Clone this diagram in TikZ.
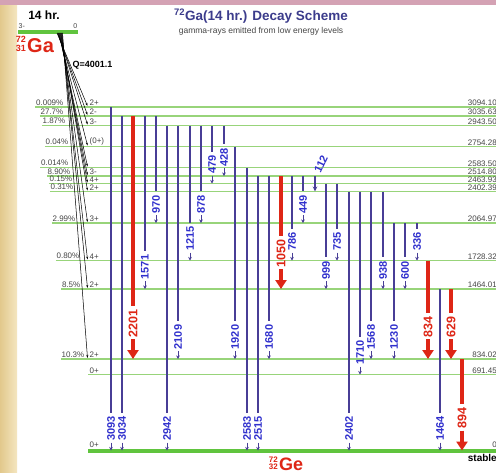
\documentclass[tikz,border=0pt]{standalone}
\usepackage{fontspec}
\setmainfont{Liberation Sans}
\usetikzlibrary{arrows.meta}
\definecolor{gaRed}{RGB}{222,38,22}
\definecolor{gamBlue}{RGB}{72,62,150}
\definecolor{labBlue}{RGB}{48,48,205}
\definecolor{levGreen}{RGB}{152,212,122}
\definecolor{gsGreen}{RGB}{96,196,62}
\definecolor{titleBlue}{RGB}{60,60,140}
\definecolor{txtGray}{RGB}{70,70,70}
\definecolor{sandA}{RGB}{226,200,140}
\definecolor{sandB}{RGB}{244,230,192}
\definecolor{pinkBg}{RGB}{212,162,180}

\begin{document}
\begin{tikzpicture}[x=1pt, y=-1pt, every node/.style={inner sep=0.5pt},
    lev/.style={levGreen, line width=1.2pt},
    gsl/.style={gsGreen, line width=4pt},
    feed/.style={black, line width=0.5pt, -{Stealth[length=3pt,width=2pt]}},
    gline/.style={gamBlue, line width=2pt},
    gtip/.style={gamBlue, line width=0.8pt, -{Stealth[length=3.5pt,width=3.5pt]}},
    rline/.style={gaRed, line width=4pt},
    rtip/.style={gaRed, line width=4pt, -{Triangle[length=9pt,width=11pt]}},
    glab/.style={labBlue, font=\bfseries\fontsize{11}{12}\selectfont, rotate=90, anchor=west},
    rlab/.style={gaRed, font=\bfseries\fontsize{12.5}{13}\selectfont, rotate=90, anchor=west},
    small/.style={txtGray, font=\fontsize{8}{9}\selectfont},
    pct/.style={small, anchor=south east},
    spin/.style={small, anchor=south west},
    elab/.style={small, anchor=south east}]
  \useasboundingbox (0,0) rectangle (496,472);
  % frame of the slide
  \fill[white] (0,0) rectangle (496,472);
  \shade[left color=sandA, right color=sandB] (0,0) rectangle (17,472);
  \fill[pinkBg] (0,0) rectangle (496,5);

  % header
  \node[titleBlue, font=\bfseries\fontsize{13.5}{15}\selectfont] (title) at (261,16) {\textsuperscript{72}Ga(14 hr.) Decay Scheme};
  \node[txtGray, font=\fontsize{8.5}{10}\selectfont] (subt) at (261,31) {gamma-rays emitted from low energy levels};

  % parent level
  \node[font=\bfseries\fontsize{12}{13}\selectfont] (half) at (44,15) {14 hr.};
  \draw[gsl] (18,31.5) -- (78,31.5);
  \node[small, font=\fontsize{7}{8}\selectfont, anchor=south west] (pspin) at (18,29) {3-};
  \node[small, font=\fontsize{7}{8}\selectfont, anchor=south east] (pzero) at (78,29) {0};
  \node[gaRed, font=\bfseries\fontsize{9}{10}\selectfont, anchor=base east] (gaA) at (26.5,42) {72};
  \node[gaRed, font=\bfseries\fontsize{9}{10}\selectfont, anchor=base east] (gaZ) at (26.5,51) {31};
  \node[gaRed, font=\bfseries\fontsize{20}{22}\selectfont, anchor=base west] (ga) at (26.5,52) {Ga};
  \node[font=\bfseries\fontsize{9}{10}\selectfont, anchor=west] (qval) at (72,65) {Q=4001.1};

  % levels fed by beta decay
  \foreach \n/\y/\e/\s/\p/\px/\bx in {
      1/107/3094.10/2+/0.009\%/64/57, 2/116/3035.63/2-/27.7\%/64/57.5,
      3/125.5/2943.50/3-/1.87\%/66/58, 4/146.5/2754.28/(0+)/0.04\%/69/58.5,
      5/167.5/2583.50/{}/0.014\%/69/59, 6/176/2514.80/3-/8.90\%/71/59.5,
      7/183.5/2463.93/4+/0.15\%/73/60, 8/191.5/2402.39/2+/0.31\%/74/60.5,
      9/223/2064.97/3+/2.99\%/76/61, 10/260.5/1728.32/4+/0.80\%/80/61.5,
      11/289/1464.01/2+/8.5\%/81/62, 12/359/834.02/2+/10.3\%/85/62.5} {
    \node[pct] (p\n) at (\px,\y-0.8) {\p};
    \draw[lev] (p\n.south west |- 0,\y) -- (496,\y);
    \node[spin] (s\n) at (89,\y-0.5) {\s};
    \node[elab] (e\n) at (497.5,\y-0.5) {\e};
    \draw[feed] (\bx,33) -- (87.5,\y-1);
  }
  \draw[lev] (88,374.5) -- (496,374.5);
  \node[spin] (s13) at (89,374) {0+};
  \node[elab] (e13) at (497.5,374) {691.45};

  % ground state
  \draw[gsl] (88,450.5) -- (496,450.5);
  \node[spin] (s0) at (89,448.5) {0+};
  \node[elab] (e0) at (497.5,448) {0};
  \node[font=\bfseries\fontsize{10}{11}\selectfont, anchor=north east] (stab) at (497.5,454) {stable};
  \node[gaRed, font=\bfseries\fontsize{8}{9}\selectfont, anchor=base east] (geA) at (278.5,462) {72};
  \node[gaRed, font=\bfseries\fontsize{8}{9}\selectfont, anchor=base east] (geZ) at (278.5,469.5) {32};
  \node[gaRed, font=\bfseries\fontsize{18}{20}\selectfont, anchor=base west] (ge) at (278.5,470.3) {Ge};

  % gamma transitions
  \foreach \x/\a/\b/\t in {
      111/107/450.5/3093, 122/116/450.5/3034, 145/116/289/1571, 156/116/223/970,
      167/125.5/450.5/2942, 178/125.5/359/2109, 190/125.5/260.5/1215, 201/125.5/223/878,
      212/125.5/183.5/479, 224/125.5/176/428, 235/146.5/359/1920, 247/167.5/450.5/2583,
      258/176/450.5/2515, 269/176/359/1680, 292/176/260.5/786, 303/176/223/449,
      326/183.5/289/999, 337/183.5/260.5/735, 349/191.5/450.5/2402, 360/191.5/374.5/1710,
      371/191.5/359/1568, 383/191.5/289/938, 394/223/359/1230, 405/223/289/600,
      417/223/260.5/336, 440/289/450.5/1464} {
    \node[glab] (g\t) at (\x,\b-9) {\t};
    \draw[gline] (\x,\a) -- ([yshift=3pt]g\t.east);
    \draw[gtip] ([yshift=-1pt]g\t.west) -- (\x,\b);
  }
  \draw[gline, -{Stealth[length=5pt,width=4.5pt]}] (315,176) -- (315,191.5);
  \node[labBlue, font=\bfseries\fontsize{11}{12}\selectfont, rotate=65] (g112) at (321,164) {112};

  % strong lines
  \foreach \x/\a/\b/\t in {133/116/359/2201, 281/176/289/1050,
      428/260.5/359/834, 451/289/359/629, 462/359/450.5/894} {
    \node[rlab] (r\t) at (\x,\b-21) {\t};
    \draw[rline] (\x,\a) -- ([yshift=3pt]r\t.east);
    \draw[rtip] ([yshift=-1pt]r\t.west) -- (\x,\b);
  }
\end{tikzpicture}
\end{document}
